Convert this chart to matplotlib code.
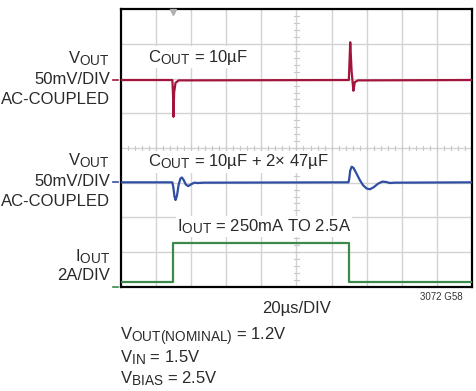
import numpy as np
import matplotlib
matplotlib.use('Agg')
import matplotlib.pyplot as plt
import matplotlib._mathtext as mt

# larger subscripts, closer to the original lettering
mt.SHRINK_FACTOR = 0.82

# scope traces, x and y in divisions (10 x 8 grid)
red_x = [0, 1.47, 1.49, 1.50, 1.52, 1.56, 1.65, 6.49, 6.51, 6.53, 6.57, 6.62, 6.66, 6.75, 10]
red_y = [5.96, 5.96, 5.5, 4.90, 5.6, 5.88, 5.95, 5.96, 6.5, 7.05, 6.2, 5.65, 5.90, 5.95, 5.96]

blue_x = [0, 1.47, 1.50, 1.53, 1.56, 1.60, 1.65, 1.70, 1.74, 1.79, 1.85, 1.92, 2.00, 2.09, 2.20, 2.35,
          6.48, 6.50, 6.53, 6.57, 6.62, 6.70, 6.80, 6.90, 7.00, 7.09, 7.20, 7.32, 7.44, 7.55, 7.66, 7.80, 10]
blue_y = [3.01, 3.01, 2.85, 2.60, 2.50, 2.62, 2.95, 3.12, 3.15, 3.08, 2.95, 2.90, 2.95, 3.00, 2.99, 3.00,
          3.01, 3.10, 3.35, 3.46, 3.43, 3.28, 3.08, 2.92, 2.83, 2.81, 2.87, 2.97, 3.03, 3.02, 2.99, 3.00, 3.01]

green_x = [0, 1.50, 1.50, 6.49, 6.49, 10]
green_y = [0.13, 0.13, 1.25, 1.25, 0.13, 0.13]

RED = '#a3143c'
BLUE = '#2f4ea3'
GREEN = '#3b8a4c'
TXT = '#2a2a2a'
FONT = 'Liberation Sans'
FS = 12

plt.rcParams['font.family'] = [FONT, 'DejaVu Sans']
plt.rcParams['mathtext.fontset'] = 'custom'
plt.rcParams['mathtext.rm'] = FONT
plt.rcParams['mathtext.it'] = FONT
plt.rcParams['mathtext.bf'] = FONT

W, H = 476, 391
fig = plt.figure(figsize=(W / 100, H / 100), dpi=100)
ax = fig.add_axes([120.7 / W, 1 - 286.7 / H, 351.5 / W, 277.4 / H])
ax.set_xlim(0, 10)
ax.set_ylim(0, 8)
ax.set_xticks([])
ax.set_yticks([])
for s in ax.spines.values():
    s.set_linewidth(1.6)
    s.set_color('black')

# grid
for gx in range(1, 10):
    ax.axvline(gx, color='#d3d3d3', lw=1.0, zorder=0)
for gy in range(1, 8):
    ax.axhline(gy, color='#d3d3d3', lw=1.0, zorder=0)
# minor ticks on centre lines
for t in np.arange(0.2, 10, 0.2):
    ax.plot([t, t], [3.93, 4.07], color='#c8c8c8', lw=0.8, zorder=0)
for t in np.arange(0.2, 8, 0.2):
    ax.plot([4.93, 5.07], [t, t], color='#c8c8c8', lw=0.8, zorder=0)

ax.plot(red_x, red_y, color=RED, lw=1.6, zorder=3)
ax.plot(blue_x, blue_y, color=BLUE, lw=1.6, zorder=3)
ax.plot(green_x, green_y, color=GREEN, lw=1.6, zorder=3)

# trigger marker
ax.plot([1.50], [7.93], marker='v', color='#b0b0b0', markersize=4, clip_on=False, zorder=4)

bb = dict(facecolor='white', edgecolor='none', pad=1.0)
ax.text(0.78, 6.62, 'C$_{\\mathrm{OUT}}$ = 10µF', fontsize=FS, color=TXT, va='center', bbox=bb, zorder=2)
ax.text(0.78, 3.60, 'C$_{\\mathrm{OUT}}$ = 10µF + 2× 47µF', fontsize=FS, color=TXT, va='center', bbox=bb, zorder=2)
ax.text(1.6, 1.74, 'I$_{\\mathrm{OUT}}$ = 250mA TO 2.5A', fontsize=FS, color=TXT, va='center', bbox=bb, zorder=2)


def ftxt(px, py, s, **kw):
    kw.setdefault('fontsize', FS)
    kw.setdefault('color', TXT)
    fig.text(px / W, 1 - py / H, s, **kw)


# left channel labels
for y0 in [80, 182]:
    ftxt(110, y0 - 21, 'V$_{\\mathrm{OUT}}$', ha='right', va='center')
    ftxt(110, y0, '50mV/DIV', ha='right', va='center')
    ftxt(110, y0 + 20, 'AC-COUPLED', ha='right', va='center')
ftxt(110, 257, 'I$_{\\mathrm{OUT}}$', ha='right', va='center')
ftxt(110, 275, '2A/DIV', ha='right', va='center')

# channel ground markers
for py, c in [(80, RED), (182, BLUE), (286.5, GREEN)]:
    fig.add_artist(plt.Line2D([113 / W, 118 / W], [1 - py / H, 1 - py / H], color=c, lw=1.2))

ftxt(297, 308, '20µs/DIV', ha='center', va='center')
ftxt(463, 297, '3072 G58', ha='right', va='center', fontsize=7, color='#333333')

ftxt(120, 337, 'V$_{\\mathrm{OUT(NOMINAL)}}$ = 1.2V', ha='left', va='center')
ftxt(120, 358, 'V$_{\\mathrm{IN}}$ = 1.5V', ha='left', va='center')
ftxt(120, 379, 'V$_{\\mathrm{BIAS}}$ = 2.5V', ha='left', va='center')

fig.savefig('out.png', dpi=100)
